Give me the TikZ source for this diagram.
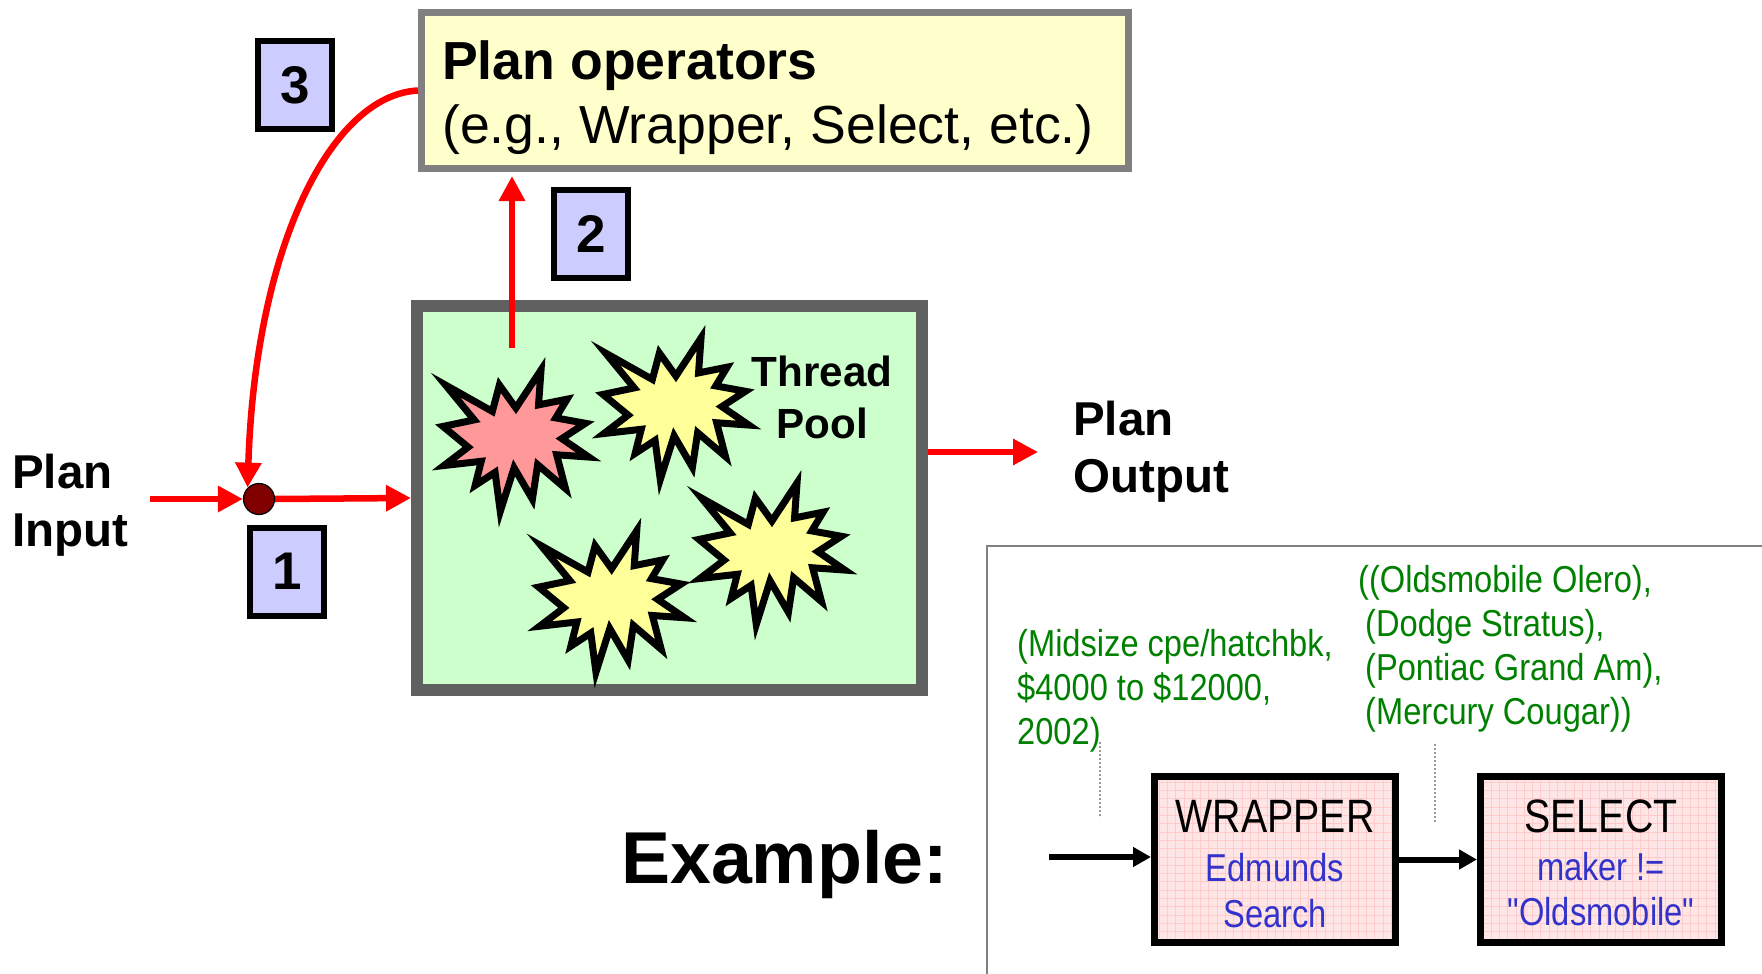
\documentclass[tikz,border=0pt]{standalone}
\usepackage{fontspec}
\setmainfont{Liberation Sans}
\newfontfamily\narrowfont[FakeStretch=0.84]{Liberation Sans}
\newfontfamily\greenfont[FakeStretch=0.87]{Liberation Sans}
\usetikzlibrary{arrows.meta,calc}

\definecolor{arrowred}{HTML}{FF0000}
\definecolor{opsfill}{HTML}{FFFFCC}
\definecolor{opsborder}{HTML}{808080}
\definecolor{poolfill}{HTML}{CCFFCC}
\definecolor{poolborder}{HTML}{606060}
\definecolor{numfill}{HTML}{CCCCFF}
\definecolor{dotfill}{HTML}{800000}
\definecolor{burstpink}{HTML}{FF9999}
\definecolor{burstyellow}{HTML}{FFFF99}
\definecolor{datagreen}{HTML}{008000}
\definecolor{argblue}{HTML}{3333CC}
\definecolor{opfill}{HTML}{FFE6E6}
\definecolor{opgrid}{HTML}{FFCACA}
\definecolor{framegray}{HTML}{808080}
\definecolor{leadergray}{HTML}{999999}

% font size in points (1pt = 1 unit of the drawing)
\newcommand\setpx[1]{\fontsize{#1}{#1}\selectfont}
% stacked lines with a fixed baseline distance; the box baseline is the first line
\newcommand\leftlines[2]{\vtop{\baselineskip=#1\relax\halign{##\hfil\cr#2\crcr}}}
\newcommand\centerlines[2]{\vtop{\baselineskip=#1\relax\halign{\hfil##\hfil\cr#2\crcr}}}

\begin{document}
\begin{tikzpicture}[x=1pt,y=-1pt,
  opsbox/.style={draw=opsborder, fill=opsfill, line width=7pt,
    minimum width=707pt, minimum height=156pt, inner sep=0pt},
  poolbox/.style={draw=poolborder, fill=poolfill, line width=12pt,
    minimum width=505pt, minimum height=384pt, inner sep=0pt},
  numbox/.style={draw=black, fill=numfill, line width=6pt,
    minimum width=74pt, minimum height=88pt, inner sep=0pt,
    font=\setpx{53}\bfseries},
  joint/.style={circle, draw=black, line width=1.2pt, fill=dotfill,
    minimum size=31pt, inner sep=0pt},
  redflow/.style={draw=arrowred, line width=6.5pt,
    -{Triangle[length=25pt,width=25pt]}},
  opbox/.style={draw=black, line width=7pt, fill=opfill,
    minimum width=241pt, minimum height=166pt, inner sep=0pt,
    text height=34pt, text depth=89pt,
    path picture={\draw[opgrid, line width=0.8pt]
      (path picture bounding box.south west) grid[step=8.3pt]
      (path picture bounding box.north east);}},
  exlink/.style={draw=black, line width=6pt,
    -{Triangle[length=18pt,width=19pt]}},
  leader/.style={draw=leadergray, line width=1.6pt, dash pattern=on 2pt off 2pt},
  lbl/.style={inner sep=0pt},
  burstline/.style={draw=black, line width=7pt},
  pics/burst/.style={code={
    \draw[burstline, fill=#1]
      (108,58) -- (145.22,0) -- (141.55,53.25) -- (183.80,44.57)
      -- (167.02,73.15) -- (210.97,81.37) -- (176.07,104.75)
      -- (216,132.90) -- (168.37,129.42) -- (181.45,180.95)
      -- (140.20,144.57) -- (132.47,197.37) -- (105.32,149.35)
      -- (84.85,216) -- (77.15,156.27) -- (47.62,176.17)
      -- (56.67,139.37) -- (1.35,145.87) -- (37.22,117.75)
      -- (0,86.15) -- (46.27,76.17) -- (3.70,22.95)
      -- (73.12,63.20) -- (83.52,22.95) -- cycle;
  }}
]
\useasboundingbox (0,0) rectangle (1762,974);

% ---- plan operators ----
\node[opsbox] (ops) at (775,90.5) {};
\node[lbl, anchor=base west] (opstext) at (442,79)
  {\setpx{53.6}\leftlines{64pt}{{\bfseries Plan operators}\cr (e.g., Wrapper, Select, etc.)}};

% ---- thread pool ----
\node[poolbox] (pool) at (669.5,498) {};
\pic[xscale=0.675, yscale=0.655] at (443,370) {burst=burstpink};
\pic[xscale=0.675, yscale=0.655] at (603,338) {burst=burstyellow};
\pic[xscale=0.675, yscale=0.655] at (538.7,530.7) {burst=burstyellow};
\pic[xscale=0.675, yscale=0.655] at (699,483) {burst=burstyellow};
\node[lbl, anchor=base] (pooltext) at (822,386)
  {\setpx{42.2}\bfseries\centerlines{52pt}{Thread\cr Pool}};

% ---- step numbers ----
\node[numbox] (n1) at (287,571.5) {1};
\node[numbox] (n2) at (591,234) {2};
\node[numbox] (n3) at (295,85) {3};

% ---- data flow ----
\node[joint] (junction) at (259,499) {};
\coordinate (inStart) at (150,499);
\coordinate (stepTwoStart) at (512,348);
\coordinate (stepTwoTip) at (512,176);
\coordinate (outTip) at (1038,452);
\draw[redflow] (inStart) -- (junction.west);
\draw[redflow] (junction.east) -- (pool.west);
\draw[redflow] (stepTwoStart) -- (stepTwoTip);
\draw[redflow] (pool.east |- outTip) -- (outTip);
\draw[redflow] (ops.west)
  .. controls (330,95) and (255,250) .. (junction.north west);

\node[lbl, anchor=base west] (inlabel) at (12,488)
  {\setpx{47.5}\bfseries\leftlines{58pt}{Plan\cr Input}};
\node[lbl, anchor=base west] (outlabel) at (1073,435)
  {\setpx{47.5}\bfseries\leftlines{57pt}{Plan\cr Output}};

% ---- example ----
\draw[framegray, line width=2pt] (987,975) -- (987,546) -- (1763,546);
\node[lbl, anchor=base west] (exlabel) at (621,883) {\setpx{73.5}\bfseries Example:};

\node[opbox] (wrap) at (1275,859.5) {\narrowfont\centerlines{45.5pt}{%
  {\setpx{46.8}WRAPPER}\cr\noalign{\kern3.5pt}
  {\setpx{38.9}\color{argblue}Edmunds}\cr\noalign{\kern0.5pt}
  {\setpx{38.9}\color{argblue}Search}}};
\node[opbox] (sel) at (1601,859.5) {\narrowfont\centerlines{44.5pt}{%
  {\setpx{46.8}SELECT}\cr\noalign{\kern3.5pt}
  {\setpx{38.9}\color{argblue}maker !=}\cr\noalign{\kern0.5pt}
  {\setpx{38.9}\color{argblue}"Oldsmobile"}}};

\coordinate (exIn) at (1049,857);
\draw[exlink] (exIn) -- (wrap.west |- exIn);
\draw[exlink] (wrap.east) -- (sel.west);

\node[lbl, anchor=base west, text=datagreen] (query) at (1017,656)
  {\greenfont\setpx{37.5}\leftlines{44pt}{(Midsize cpe/hatchbk,\cr \$4000 to \$12000,\cr 2002)}};
\node[lbl, anchor=base west, text=datagreen] (result) at (1358,592)
  {\greenfont\setpx{37.5}\leftlines{44pt}{((Oldsmobile Olero),\cr
   \kern7pt(Dodge Stratus),\cr \kern7pt(Pontiac Grand Am),\cr \kern7pt(Mercury Cougar))}};

\coordinate (queryTop) at (1100,742);
\coordinate (queryBottom) at (1100,818);
\coordinate (resultTop) at (1435,744);
\coordinate (resultBottom) at (1435,822);
\draw[leader] (queryTop) -- (queryBottom);
\draw[leader] (resultTop) -- (resultBottom);
\end{tikzpicture}
\end{document}
